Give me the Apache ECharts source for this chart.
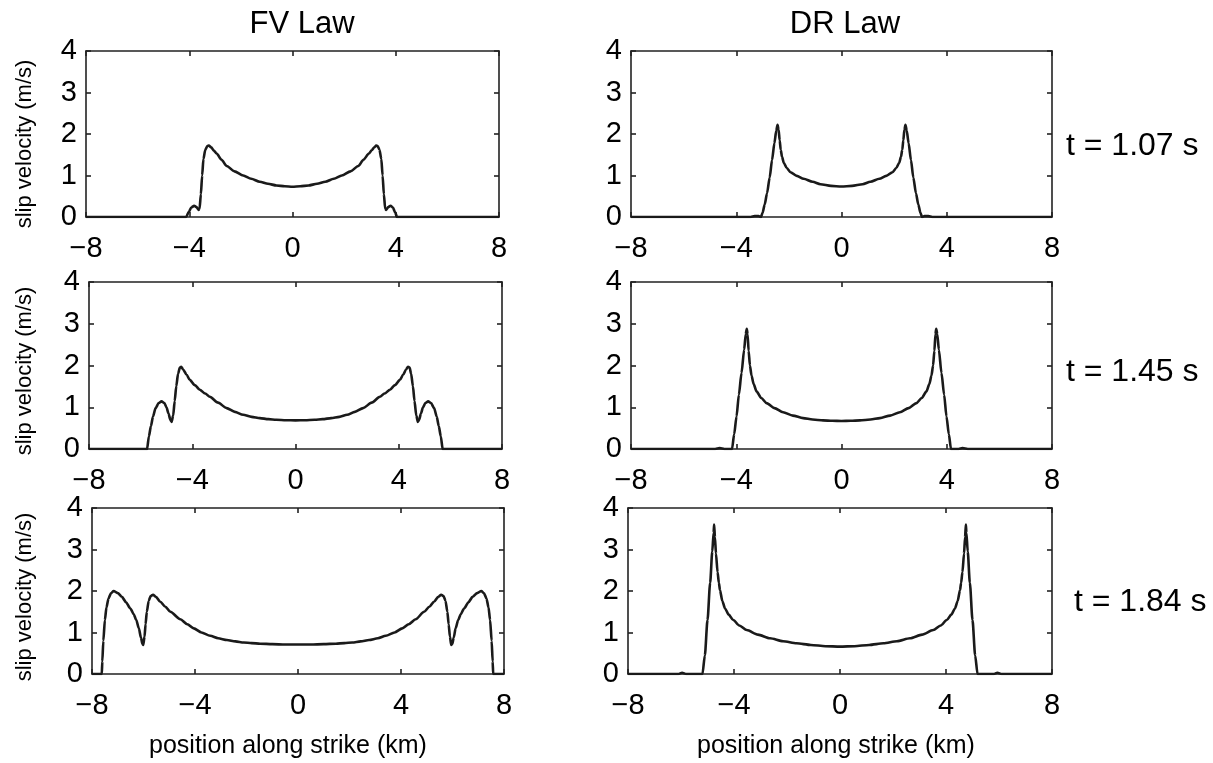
<!DOCTYPE html>
<html>
<head>
<meta charset="utf-8">
<script src="https://cdn.jsdelivr.net/npm/echarts@6/dist/echarts.min.js"></script>
<style>
html,body{margin:0;padding:0;background:#fff;}
#chart{width:1213px;height:763px;}
</style>
</head>
<body>
<div id="chart"></div>
<script>
// ---- data ----
var xTicks = [-8, -4, 0, 4, 8];
var yTicks = [0, 1, 2, 3, 4];
var columnTitles = ['FV Law', 'DR Law'];
var timeLabels = ['t = 1.07 s', 't = 1.45 s', 't = 1.84 s'];
var yAxisTitle = 'slip velocity (m/s)';
var xAxisTitle = 'position along strike (km)';

// FV law, t = 1.07 s
var fv107X = [-8, -4.12, -4.02, -3.92, -3.81, -3.72, -3.64, -3.60, -3.55, -3.50, -3.45, -3.38, -3.30, -3.24, -3.15, -3.05, -2.94, -2.75, -2.55, -2.25, -1.91, -1.6, -1.27, -0.95, -0.62, -0.3, 0, 0.3, 0.62, 0.95, 1.27, 1.6, 1.91, 2.25, 2.55, 2.75, 2.96, 3.07, 3.17, 3.24, 3.30, 3.37, 3.44, 3.49, 3.54, 3.59, 3.63, 3.71, 3.80, 3.89, 3.97, 4.05, 8];
var fv107Y = [0, 0, 0.12, 0.23, 0.27, 0.24, 0.17, 0.2, 0.55, 1.0, 1.4, 1.62, 1.71, 1.72, 1.68, 1.6, 1.53, 1.38, 1.23, 1.1, 1.0, 0.92, 0.85, 0.8, 0.76, 0.74, 0.73, 0.74, 0.76, 0.8, 0.85, 0.92, 1.0, 1.1, 1.23, 1.38, 1.53, 1.61, 1.68, 1.72, 1.71, 1.62, 1.4, 1.0, 0.55, 0.2, 0.17, 0.24, 0.27, 0.23, 0.12, 0, 0];

// FV law, t = 1.45 s
var fv145X = [-8, -5.75, -5.68, -5.6, -5.52, -5.42, -5.3, -5.19, -5.08, -5.0, -4.92, -4.85, -4.80, -4.74, -4.68, -4.62, -4.55, -4.48, -4.43, -4.35, -4.22, -4.10, -3.9, -3.71, -3.5, -3.32, -3.0, -2.67, -2.35, -2.03, -1.7, -1.38, -1.05, -0.74, -0.37, 0, 0.37, 0.74, 1.05, 1.38, 1.7, 2.0, 2.3, 2.62, 2.95, 3.27, 3.45, 3.66, 3.85, 4.05, 4.17, 4.28, 4.36, 4.42, 4.48, 4.55, 4.61, 4.68, 4.74, 4.79, 4.86, 4.94, 5.03, 5.14, 5.25, 5.37, 5.47, 5.55, 5.63, 5.70, 8];
var fv145Y = [0, 0, 0.3, 0.55, 0.78, 0.98, 1.1, 1.14, 1.1, 1.0, 0.85, 0.7, 0.65, 0.8, 1.15, 1.5, 1.8, 1.95, 1.97, 1.9, 1.78, 1.66, 1.53, 1.42, 1.33, 1.25, 1.11, 0.98, 0.89, 0.82, 0.77, 0.74, 0.715, 0.70, 0.69, 0.685, 0.69, 0.70, 0.715, 0.74, 0.77, 0.82, 0.89, 0.98, 1.11, 1.25, 1.33, 1.42, 1.53, 1.66, 1.78, 1.9, 1.97, 1.95, 1.8, 1.5, 1.15, 0.8, 0.65, 0.7, 0.85, 1.0, 1.1, 1.14, 1.1, 0.98, 0.78, 0.55, 0.3, 0, 0];

// FV law, t = 1.84 s
var fv184X = [-8, -7.62, -7.60, -7.56, -7.50, -7.44, -7.36, -7.26, -7.16, -7.0, -6.84, -6.68, -6.51, -6.38, -6.28, -6.18, -6.10, -6.04, -6.01, -5.96, -5.92, -5.87, -5.80, -5.72, -5.63, -5.52, -5.35, -5.15, -4.96, -4.57, -4.3, -4.05, -3.75, -3.41, -3.1, -2.76, -2.43, -2.11, -1.8, -1.47, -1.0, -0.5, 0, 0.5, 1.0, 1.47, 1.8, 2.11, 2.43, 2.76, 3.1, 3.41, 3.75, 4.05, 4.3, 4.57, 4.9, 5.1, 5.28, 5.45, 5.56, 5.65, 5.73, 5.80, 5.85, 5.90, 5.95, 5.99, 6.05, 6.12, 6.22, 6.32, 6.45, 6.62, 6.78, 6.96, 7.12, 7.22, 7.32, 7.40, 7.46, 7.52, 7.56, 7.58, 8];
var fv184Y = [0, 0, 0.3, 0.8, 1.3, 1.6, 1.82, 1.95, 2.0, 1.95, 1.86, 1.73, 1.58, 1.44, 1.3, 1.1, 0.88, 0.72, 0.70, 0.9, 1.2, 1.5, 1.76, 1.88, 1.91, 1.86, 1.74, 1.62, 1.50, 1.32, 1.2, 1.10, 1.0, 0.92, 0.86, 0.82, 0.785, 0.76, 0.745, 0.73, 0.72, 0.71, 0.71, 0.71, 0.72, 0.73, 0.745, 0.76, 0.785, 0.82, 0.86, 0.92, 1.0, 1.10, 1.2, 1.32, 1.5, 1.62, 1.74, 1.86, 1.91, 1.88, 1.76, 1.5, 1.2, 0.9, 0.70, 0.72, 0.88, 1.1, 1.3, 1.44, 1.58, 1.73, 1.86, 1.95, 2.0, 1.95, 1.82, 1.6, 1.3, 0.8, 0.3, 0, 0];

// DR law, t = 1.07 s
var dr107X = [-8, -3.45, -3.3, -3.15, -3.06, -3.0, -2.92, -2.83, -2.73, -2.64, -2.55, -2.48, -2.43, -2.39, -2.35, -2.31, -2.26, -2.19, -2.08, -1.94, -1.7, -1.44, -1.1, -0.8, -0.4, 0, 0.4, 0.8, 1.1, 1.44, 1.7, 1.94, 2.08, 2.19, 2.26, 2.31, 2.35, 2.39, 2.43, 2.48, 2.55, 2.64, 2.73, 2.83, 2.92, 3.0, 3.06, 3.15, 3.3, 3.45, 8];
var dr107Y = [0, 0, 0.02, 0.02, 0, 0.1, 0.3, 0.57, 0.95, 1.37, 1.78, 2.08, 2.22, 2.1, 1.85, 1.62, 1.45, 1.3, 1.18, 1.08, 0.99, 0.92, 0.85, 0.79, 0.75, 0.735, 0.75, 0.79, 0.85, 0.92, 0.99, 1.08, 1.18, 1.3, 1.45, 1.62, 1.85, 2.1, 2.22, 2.08, 1.78, 1.37, 0.95, 0.57, 0.3, 0.1, 0, 0.02, 0.02, 0, 0];

// DR law, t = 1.45 s
var dr145X = [-8, -4.8, -4.63, -4.45, -4.16, -4.08, -3.99, -3.90, -3.80, -3.70, -3.64, -3.60, -3.57, -3.53, -3.48, -3.42, -3.34, -3.23, -3.05, -2.85, -2.55, -2.22, -1.85, -1.46, -1.1, -0.7, -0.35, 0, 0.35, 0.7, 1.1, 1.46, 1.85, 2.22, 2.55, 2.85, 3.05, 3.23, 3.34, 3.42, 3.48, 3.53, 3.57, 3.60, 3.64, 3.70, 3.80, 3.90, 3.99, 4.08, 4.16, 4.45, 4.6, 4.8, 8];
var dr145Y = [0, 0, 0.02, 0, 0, 0.35, 0.78, 1.3, 1.82, 2.38, 2.75, 2.88, 2.75, 2.35, 2.0, 1.76, 1.56, 1.38, 1.22, 1.10, 0.98, 0.88, 0.8, 0.74, 0.705, 0.685, 0.675, 0.67, 0.675, 0.685, 0.705, 0.74, 0.8, 0.88, 0.98, 1.10, 1.22, 1.38, 1.56, 1.76, 2.0, 2.35, 2.75, 2.88, 2.75, 2.38, 1.82, 1.3, 0.78, 0.35, 0, 0, 0.02, 0, 0];

// DR law, t = 1.84 s
var dr184X = [-8, -6.1, -5.96, -5.8, -5.19, -5.1, -5.0, -4.9, -4.82, -4.77, -4.75, -4.72, -4.68, -4.62, -4.57, -4.53, -4.44, -4.34, -4.2, -4.03, -3.8, -3.52, -3.1, -2.64, -2.15, -1.64, -1.1, -0.55, 0, 0.55, 1.1, 1.64, 2.15, 2.64, 3.1, 3.52, 3.8, 4.03, 4.2, 4.34, 4.44, 4.53, 4.57, 4.62, 4.68, 4.72, 4.75, 4.77, 4.82, 4.9, 5.0, 5.1, 5.19, 5.8, 5.94, 6.1, 8];
var dr184Y = [0, 0, 0.03, 0, 0, 0.45, 1.3, 2.2, 2.95, 3.4, 3.6, 3.3, 2.9, 2.45, 2.2, 2.02, 1.76, 1.58, 1.43, 1.30, 1.17, 1.06, 0.95, 0.86, 0.79, 0.74, 0.70, 0.67, 0.66, 0.67, 0.70, 0.74, 0.79, 0.86, 0.95, 1.06, 1.17, 1.30, 1.43, 1.58, 1.76, 2.02, 2.2, 2.45, 2.9, 3.3, 3.6, 3.4, 2.95, 2.2, 1.3, 0.45, 0, 0, 0.03, 0, 0];

// ---- layout ----
var panels = [
  {x: fv107X, y: fv107Y, grid: {left: 86, top: 51, width: 413, height: 166}, col: 0, row: 0},
  {x: dr107X, y: dr107Y, grid: {left: 631, top: 51, width: 421, height: 166}, col: 1, row: 0},
  {x: fv145X, y: fv145Y, grid: {left: 89, top: 282, width: 413, height: 167}, col: 0, row: 1},
  {x: dr145X, y: dr145Y, grid: {left: 631, top: 282, width: 421, height: 167}, col: 1, row: 1},
  {x: fv184X, y: fv184Y, grid: {left: 92, top: 508, width: 412, height: 166}, col: 0, row: 2},
  {x: dr184X, y: dr184Y, grid: {left: 628, top: 508, width: 424, height: 166}, col: 1, row: 2}
];

var FONT = '"Liberation Sans", Arial, Helvetica, sans-serif';
var AX = {color: '#222', width: 1.6};
function minusFmt(v) { return String(v).replace('-', '\u2212'); }

var grids = [], xAxes = [], yAxes = [], series = [];
panels.forEach(function (p, i) {
  grids.push(Object.assign({containLabel: false}, p.grid));
  xAxes.push({
    gridIndex: i, type: 'value', min: xTicks[0], max: xTicks[xTicks.length - 1],
    interval: xTicks[1] - xTicks[0], position: 'bottom',
    axisLine: {show: true, onZero: false, lineStyle: AX},
    axisTick: {show: true, inside: true, length: 5, lineStyle: AX},
    axisLabel: {show: true, margin: 17, fontSize: 29, color: '#000', fontFamily: FONT, formatter: minusFmt, showMinLabel: true, showMaxLabel: true},
    splitLine: {show: false}
  });
  xAxes.push({
    gridIndex: i, type: 'value', min: xTicks[0], max: xTicks[xTicks.length - 1],
    interval: xTicks[1] - xTicks[0], position: 'top',
    axisLine: {show: true, onZero: false, lineStyle: AX},
    axisTick: {show: true, inside: true, length: 5, lineStyle: AX},
    axisLabel: {show: false}, splitLine: {show: false}
  });
  yAxes.push({
    gridIndex: i, type: 'value', min: yTicks[0], max: yTicks[yTicks.length - 1],
    interval: yTicks[1] - yTicks[0], position: 'left',
    axisLine: {show: true, onZero: false, lineStyle: AX},
    axisTick: {show: true, inside: true, length: 5, lineStyle: AX},
    axisLabel: {show: true, margin: 9, fontSize: 29, color: '#000', fontFamily: FONT},
    splitLine: {show: false}
  });
  yAxes.push({
    gridIndex: i, type: 'value', min: yTicks[0], max: yTicks[yTicks.length - 1],
    interval: yTicks[1] - yTicks[0], position: 'right',
    axisLine: {show: true, onZero: false, lineStyle: AX},
    axisTick: {show: true, inside: true, length: 5, lineStyle: AX},
    axisLabel: {show: false}, splitLine: {show: false}
  });
  var data = p.x.map(function (xv, k) { return [xv, p.y[k]]; });
  series.push({
    type: 'line', xAxisIndex: 2 * i, yAxisIndex: 2 * i, data: data,
    showSymbol: false, smooth: 0.25, smoothMonotone: 'x',
    lineStyle: {color: '#1a1a1a', width: 2.6}, z: 3
  });
});

function txt(s, x, y, size, align, rot) {
  var g = {type: 'text', x: x, y: y, style: {text: s, font: size + 'px ' + FONT, fill: '#000', textAlign: align, textVerticalAlign: 'middle'}};
  if (rot) { g.rotation = rot; }
  return g;
}
var graphics = [
  txt(columnTitles[0], 302, 24, 31, 'center'),
  txt(columnTitles[1], 845, 24, 31, 'center'),
  txt(timeLabels[0], 1066, 146, 32, 'left'),
  txt(timeLabels[1], 1066, 372, 32, 'left'),
  txt(timeLabels[2], 1074, 602, 32, 'left'),
  txt(yAxisTitle, 25, 144, 22, 'center', Math.PI / 2),
  txt(yAxisTitle, 25, 371, 22, 'center', Math.PI / 2),
  txt(yAxisTitle, 25, 597, 22, 'center', Math.PI / 2),
  txt(xAxisTitle, 288, 746, 25, 'center'),
  txt(xAxisTitle, 836, 746, 25, 'center')
];

var chart = echarts.init(document.getElementById('chart'), null, {renderer: 'canvas'});
chart.setOption({
  animation: false,
  backgroundColor: '#fff',
  grid: grids,
  xAxis: xAxes,
  yAxis: yAxes,
  series: series,
  graphic: graphics
});
</script>
</body>
</html>
